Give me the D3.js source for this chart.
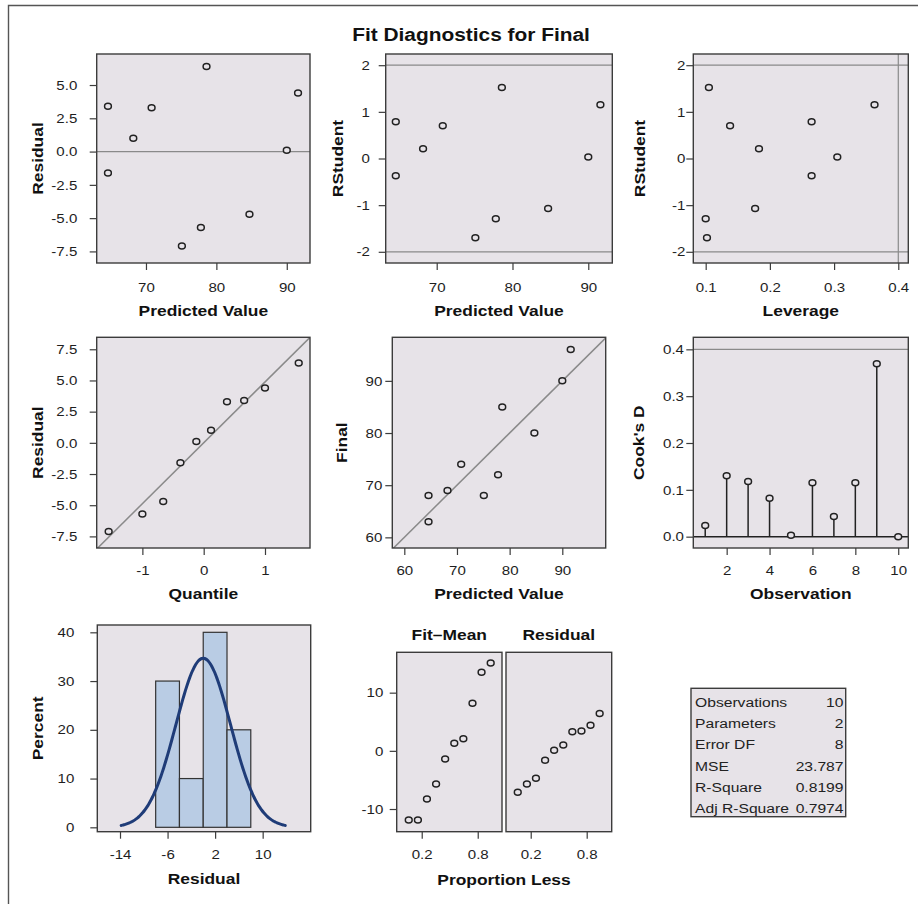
<!DOCTYPE html>
<html>
<head>
<meta charset="utf-8">
<script src="https://cdn.jsdelivr.net/npm/d3@7/dist/d3.min.js"></script>
<style>
  html, body { margin: 0; padding: 0; background: #fff; }
  svg { display: block; font-family: "Liberation Sans", Arial, sans-serif; }
</style>
</head>
<body>
<script>
// ---- Regression diagnostics for the model of Final (10 observations) ----
const observation = [1, 2, 3, 4, 5, 6, 7, 8, 9, 10];
const finalScore  = [63, 68, 68, 72, 69, 80, 74, 85, 96, 90];
const predicted   = [64.6, 75.1, 64.6, 77.8, 68.2, 84.7, 70.8, 78.6, 91.6, 90.0];
const residual    = [-1.6, -7.1, 3.4, -5.7, 1.0, -4.7, 3.3, 6.4, 4.4, 0.1];
const rstudent    = [-0.37, -1.70, 0.79, -1.29, 0.21, -1.07, 0.70, 1.52, 1.15, 0.03];
const leverage    = [0.265, 0.102, 0.265, 0.100, 0.183, 0.177, 0.138, 0.105, 0.363, 0.305];
const cooksD      = [0.024, 0.130, 0.118, 0.082, 0.003, 0.115, 0.043, 0.115, 0.369, 0.000];

// Normal quantiles and proportion-less positions for the ranked values
const normalQuantile = [-1.55, -1.00, -0.66, -0.38, -0.12, 0.12, 0.38, 0.66, 1.00, 1.55];
const proportionLess = [0.061, 0.159, 0.256, 0.354, 0.451, 0.549, 0.646, 0.744, 0.841, 0.939];

// Residual histogram
const binEdges    = [-8, -4, 0, 4, 8];
const binPercents = [30, 10, 40, 20];
const normalMean = 0;
const normalSD = 4.6;

// Reference cutoffs
const rstudentCutoff = 2;
const leverageCutoff = 0.4;
const cooksCutoff = 0.4;

// Fit statistics
const statLabels = ["Observations", "Parameters", "Error DF", "MSE", "R-Square", "Adj R-Square"];
const statValues = ["10", "2", "8", "23.787", "0.8199", "0.7974"];
const mse = 23.787;

// Tick labels
const ticksPred = [70, 80, 90];
const ticksResid = [-7.5, -5, -2.5, 0, 2.5, 5];
const ticksRStud = [-2, -1, 0, 1, 2];
const ticksLev = [0.1, 0.2, 0.3, 0.4];
const ticksQuant = [-1, 0, 1];
const ticksQQResid = [-7.5, -5, -2.5, 0, 2.5, 5, 7.5];
const ticksFinal = [60, 70, 80, 90];
const ticksObs = [2, 4, 6, 8, 10];
const ticksCook = [0, 0.1, 0.2, 0.3, 0.4];
const ticksHistX = [-14, -6, 2, 10];
const ticksHistY = [0, 10, 20, 30, 40];
const ticksProp = [0.2, 0.8];
const ticksSpread = [-10, 0, 10];

// ---- styling ----
const SX = 1.16;              // horizontal stretch of the lettering
const WALL = "#e7e3e8";
const FRAME = "#3c3c3c";
const REF = "#8a8a8a";
const INK = "#222";
const TICK_FONT = 13;

// plain hyphen for negative numbers
const locale = d3.formatLocale({ decimal: ".", thousands: ",", grouping: [3], currency: ["", ""], minus: "-" });
const f1 = locale.format(".1f");
const fg = locale.format("");

const W = 918, H = 904;
const svg = d3.select("body").append("svg").attr("width", W).attr("height", H);
svg.append("rect").attr("width", W).attr("height", H).attr("fill", "#fff");
svg.append("path").attr("d", `M8.5,${H} V5.5 H${W}`)
  .attr("fill", "none").attr("stroke", "#555").attr("stroke-width", 1.4);

function stretch(sel, rot) {
  sel.each(function () {
    const t = d3.select(this);
    const x = +t.attr("x") || 0, y = +t.attr("y") || 0;
    t.attr("x", 0).attr("y", 0)
     .attr("transform", `translate(${x},${y})${rot ? " rotate(" + rot + ")" : ""} scale(${SX},1)`);
  });
}

function text(parent, x, y, str, opts = {}) {
  const t = parent.append("text").attr("x", x).attr("y", y).text(str)
    .attr("font-size", opts.size || 13)
    .attr("font-weight", opts.bold ? "bold" : "normal")
    .attr("fill", opts.fill || "#111")
    .attr("text-anchor", opts.anchor || "middle");
  stretch(t, opts.rot);
  return t;
}

text(svg, 471, 41, "Fit Diagnostics for Final", { size: 18, bold: true });

let clipCount = 0;
function panel(o) {
  const g = svg.append("g");
  const x = d3.scaleLinear().domain(o.xDomain).range([o.left, o.right]);
  const y = d3.scaleLinear().domain(o.yDomain).range([o.bottom, o.top]);
  g.append("rect").attr("x", o.left).attr("y", o.top)
    .attr("width", o.right - o.left).attr("height", o.bottom - o.top).attr("fill", WALL);
  const id = "clip" + (clipCount++);
  g.append("clipPath").attr("id", id).append("rect")
    .attr("x", o.left).attr("y", o.top).attr("width", o.right - o.left).attr("height", o.bottom - o.top);
  const plot = g.append("g").attr("clip-path", `url(#${id})`);

  if (o.xTicks) {
    const ax = g.append("g").attr("transform", `translate(0,${o.bottom})`)
      .call(d3.axisBottom(x).tickValues(o.xTicks).tickFormat(o.xFmt || fg).tickSize(7).tickSizeOuter(0));
    ax.attr("font-family", null).attr("font-size", TICK_FONT);
    ax.select(".domain").remove();
    ax.selectAll(".tick line").attr("stroke", FRAME).attr("stroke-width", 1.2);
    ax.selectAll(".tick text").attr("y", o.xTickBase - o.bottom).attr("dy", null).attr("fill", "#1e1e1e");
    stretch(ax.selectAll(".tick text"));
  }
  if (o.yTicks) {
    const ay = g.append("g").attr("transform", `translate(${o.left},0)`)
      .call(d3.axisLeft(y).tickValues(o.yTicks).tickFormat(o.yFmt || fg).tickSize(7).tickSizeOuter(0).tickPadding(o.yGap - 7));
    ay.attr("font-family", null).attr("font-size", TICK_FONT);
    ay.select(".domain").remove();
    ay.selectAll(".tick line").attr("stroke", FRAME).attr("stroke-width", 1.2);
    ay.selectAll(".tick text").attr("fill", "#1e1e1e");
    stretch(ay.selectAll(".tick text"));
  }
  if (o.xLabel) text(g, (o.left + o.right) / 2, o.xLabelBase, o.xLabel, { size: 15, bold: true });
  if (o.yLabel) text(g, o.yLabelX, (o.top + o.bottom) / 2, o.yLabel, { size: 15, bold: true, rot: -90 });

  const frame = () => g.append("rect").attr("x", o.left).attr("y", o.top)
    .attr("width", o.right - o.left).attr("height", o.bottom - o.top)
    .attr("fill", "none").attr("stroke", FRAME).attr("stroke-width", 1.4);
  return { g, plot, x, y, frame, o };
}

function hline(p, v, color, w) {
  p.plot.append("line").attr("x1", p.o.left).attr("x2", p.o.right)
    .attr("y1", p.y(v)).attr("y2", p.y(v)).attr("stroke", color).attr("stroke-width", w || 1.2);
}
function vline(p, v, color, w) {
  p.plot.append("line").attr("y1", p.o.top).attr("y2", p.o.bottom)
    .attr("x1", p.x(v)).attr("x2", p.x(v)).attr("stroke", color).attr("stroke-width", w || 1.2);
}
function markers(p, xs, ys) {
  p.plot.selectAll(null).data(xs.map((v, i) => [v, ys[i]])).join("ellipse")
    .attr("cx", d => p.x(d[0])).attr("cy", d => p.y(d[1]))
    .attr("rx", 3.4).attr("ry", 3.0)
    .attr("fill", WALL).attr("stroke", INK).attr("stroke-width", 1.5);
}

// Row 1
const row1 = { top: 54, bottom: 263, xTickBase: 292, xLabelBase: 316 };
const p1 = panel({ ...row1, left: 96.7, right: 310, xDomain: [63, 93.3], yDomain: [-8.37, 7.33],
  xTicks: ticksPred, yTicks: ticksResid, yFmt: f1, yGap: 19.4,
  xLabel: "Predicted Value", yLabel: "Residual", yLabelX: 43 });
hline(p1, 0, REF);
markers(p1, predicted, residual);
p1.frame();

const p2 = panel({ ...row1, left: 385.7, right: 612.3, xDomain: [63.27, 93.17], yDomain: [-2.24, 2.24],
  xTicks: ticksPred, yTicks: ticksRStud, yGap: 15.7,
  xLabel: "Predicted Value", yLabel: "RStudent", yLabelX: 343 });
hline(p2, rstudentCutoff, REF);
hline(p2, -rstudentCutoff, REF);
markers(p2, predicted, rstudent);
p2.frame();

const p3 = panel({ ...row1, left: 693.3, right: 908.3, xDomain: [0.0807, 0.4156], yDomain: [-2.24, 2.24],
  xTicks: ticksLev, yTicks: ticksRStud, xFmt: f1, yGap: 8,
  xLabel: "Leverage", yLabel: "RStudent", yLabelX: 645 });
hline(p3, rstudentCutoff, REF);
hline(p3, -rstudentCutoff, REF);
vline(p3, leverageCutoff, REF);
markers(p3, leverage, rstudent);
p3.frame();

// Row 2
const row2 = { top: 337.3, bottom: 548, xTickBase: 574.5, xLabelBase: 599 };
const sortedResid = residual.slice().sort(d3.ascending);
const p4 = panel({ ...row2, left: 96.7, right: 310, xDomain: [-1.745, 1.734], yDomain: [-8.43, 8.46],
  xTicks: ticksQuant, yTicks: ticksQQResid, yFmt: f1, yGap: 19.4,
  xLabel: "Quantile", yLabel: "Residual", yLabelX: 43 });
{
  const s = Math.sqrt(mse), q0 = -2, q1 = 2;
  p4.plot.append("line").attr("x1", p4.x(q0)).attr("y1", p4.y(q0 * s))
    .attr("x2", p4.x(q1)).attr("y2", p4.y(q1 * s)).attr("stroke", REF).attr("stroke-width", 1.5);
}
markers(p4, normalQuantile, sortedResid);
p4.frame();

const p5 = panel({ ...row2, left: 392.3, right: 605.7, xDomain: [57.72, 98.24], yDomain: [57.96, 98.35],
  xTicks: ticksFinal, yTicks: ticksFinal, yGap: 10,
  xLabel: "Predicted Value", yLabel: "Final", yLabelX: 347 });
p5.plot.append("line").attr("x1", p5.x(50)).attr("y1", p5.y(50))
  .attr("x2", p5.x(105)).attr("y2", p5.y(105)).attr("stroke", REF).attr("stroke-width", 1.5);
markers(p5, predicted, finalScore);
p5.frame();

const p6 = panel({ ...row2, left: 693.3, right: 908.3, xDomain: [0.444, 10.47], yDomain: [-0.0242, 0.4257],
  xTicks: ticksObs, yTicks: ticksCook, yFmt: f1, yGap: 9.3,
  xLabel: "Observation", yLabel: "Cook's D", yLabelX: 644 });
hline(p6, cooksCutoff, REF);
hline(p6, 0, INK, 1.5);
p6.plot.selectAll(null).data(observation).join("line")
  .attr("x1", d => p6.x(d)).attr("x2", d => p6.x(d))
  .attr("y1", p6.y(0)).attr("y2", (d, i) => p6.y(cooksD[i]))
  .attr("stroke", INK).attr("stroke-width", 1.5);
markers(p6, observation, cooksD);
p6.frame();

// Row 3: histogram of residuals
const p7 = panel({ top: 625, bottom: 831.7, xTickBase: 859, xLabelBase: 884,
  left: 97.3, right: 310.7, xDomain: [-17.82, 18.08], yDomain: [-0.9, 41.5],
  xTicks: ticksHistX, yTicks: ticksHistY, yGap: 23,
  xLabel: "Residual", yLabel: "Percent", yLabelX: 43 });
p7.plot.selectAll(null).data(binPercents).join("rect")
  .attr("x", (d, i) => p7.x(binEdges[i]))
  .attr("width", (d, i) => p7.x(binEdges[i + 1]) - p7.x(binEdges[i]))
  .attr("y", d => p7.y(d)).attr("height", d => p7.y(0) - p7.y(d))
  .attr("fill", "#b9cce4").attr("stroke", "#333").attr("stroke-width", 1.2);
{
  const bw = binEdges[1] - binEdges[0];
  const pts = d3.range(-3, 3.0001, 0.05).map(z => {
    const v = normalMean + z * normalSD;
    return [v, 100 * bw * Math.exp(-0.5 * z * z) / (normalSD * Math.sqrt(2 * Math.PI))];
  });
  p7.plot.append("path").datum(pts)
    .attr("d", d3.line().x(d => p7.x(d[0])).y(d => p7.y(d[1])).curve(d3.curveBasis))
    .attr("fill", "none").attr("stroke", "#1f3c78").attr("stroke-width", 3)
    .attr("stroke-linecap", "round");
}
p7.frame();

// Row 3: residual-fit spread plot
const fitMean = d3.mean(finalScore);
const fitMinusMean = predicted.map(v => v - fitMean).sort(d3.ascending);
const row3 = { top: 652.3, bottom: 831.7, xTickBase: 859, yDomain: [-13.9, 16.94] };
const p8a = panel({ ...row3, left: 396.7, right: 502, xDomain: [-0.068, 1.06],
  xTicks: ticksProp, xFmt: f1, yTicks: ticksSpread, yGap: 13.4 });
markers(p8a, proportionLess, fitMinusMean);
p8a.frame();
const p8b = panel({ ...row3, left: 506, right: 611.7, xDomain: [-0.065, 1.068], xTicks: ticksProp, xFmt: f1 });
markers(p8b, proportionLess, sortedResid);
p8b.frame();
text(svg, 449.3, 640, "Fit\u2013Mean", { size: 15, bold: true });
text(svg, 558.8, 640, "Residual", { size: 15, bold: true });
text(svg, 504, 885, "Proportion Less", { size: 15, bold: true });

// Fit statistics box
{
  const bx = 691, by = 688.3, bwid = 154.7, bht = 128.4;
  svg.append("rect").attr("x", bx).attr("y", by).attr("width", bwid).attr("height", bht)
    .attr("fill", WALL).attr("stroke", FRAME).attr("stroke-width", 1.4);
  statLabels.forEach((lab, i) => {
    const base = 707.3 + i * 21.07;
    text(svg, 695, base, lab, { size: 13.5, anchor: "start", fill: "#222" });
    text(svg, 843.5, base, statValues[i], { size: 13.5, anchor: "end", fill: "#222" });
  });
}
</script>
</body>
</html>
